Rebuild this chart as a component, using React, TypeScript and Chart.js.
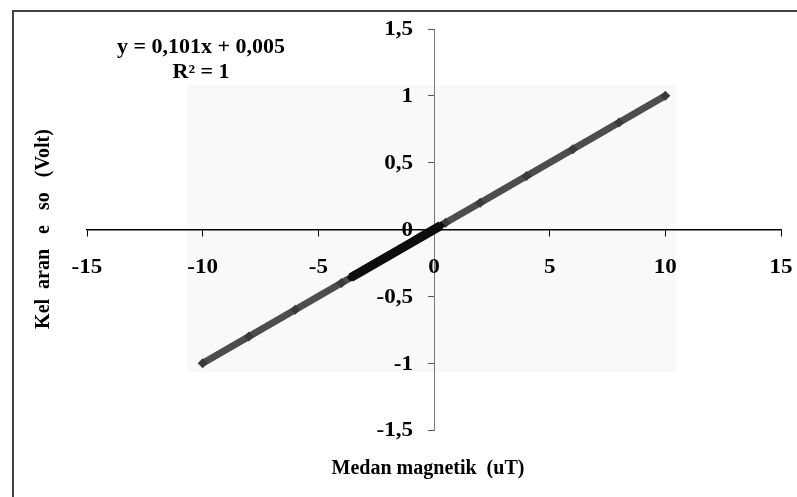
import React, { useEffect, useRef } from "react";
import { Chart, registerables } from "chart.js";

Chart.register(...registerables);

// Magnetic field (uT) and sensor output (Volt)
const fieldValues = [-10, -8, -6, -4, -3.5, -3, -2.5, -2, -1.5, -1, -0.5, 0, 0.5, 2, 4, 6, 8, 10];
const outputValues = [-1.0, -0.8, -0.6, -0.4, -0.35, -0.3, -0.25, -0.2, -0.15, -0.1, -0.05, 0, 0.05, 0.2, 0.4, 0.6, 0.8, 1.0];
// dense low-field readings drawn in black
const denseField = [-3.6, -3.3, -3, -2.7, -2.4, -2.1, -1.8, -1.5, -1.2, -0.9, -0.6, -0.3, 0, 0.3];
const denseOutput = [-0.36, -0.33, -0.3, -0.27, -0.24, -0.21, -0.18, -0.15, -0.12, -0.09, -0.06, -0.03, 0, 0.03];

const xTicks = [-15, -10, -5, 0, 5, 10, 15];
const yTicks = [-1.5, -1, -0.5, 0, 0.5, 1, 1.5];

const equationLines = ["y = 0,101x + 0,005", "R\u00b2 = 1"];
const xTitle = "Medan magnetik  (uT)";
const yTitle = "Kel  aran   e   so   (Volt)";

const FONT = "'Liberation Serif', 'Times New Roman', serif";

const fmt = (v: number) => String(v).replace(".", ",");

function text(
  ctx: CanvasRenderingContext2D,
  s: string,
  x: number,
  y: number,
  size: number,
  align: CanvasTextAlign,
  sx = 1
) {
  ctx.save();
  ctx.translate(x, y);
  ctx.scale(sx, 1);
  ctx.font = `bold ${size}px ${FONT}`;
  ctx.textAlign = align;
  ctx.textBaseline = "middle";
  ctx.fillStyle = "#000";
  ctx.fillText(s, 0, 0);
  ctx.restore();
}

const decorPlugin = {
  id: "decor",
  beforeDraw(chart: any) {
    const ctx = chart.ctx;
    ctx.save();
    // frame
    ctx.strokeStyle = "#444";
    ctx.lineWidth = 2;
    ctx.beginPath();
    ctx.moveTo(13, 497);
    ctx.lineTo(13, 11);
    ctx.lineTo(797, 11);
    ctx.stroke();
    // faint plot background
    ctx.fillStyle = "#f9f9f9";
    ctx.fillRect(187, 85, 489, 287);
    ctx.restore();
  },
  afterDraw(chart: any) {
    const ctx = chart.ctx;
    const xs = chart.scales.x;
    const ys = chart.scales.y;
    const x0 = xs.getPixelForValue(0);
    xTicks.forEach((v) => text(ctx, fmt(v), xs.getPixelForValue(v), 268, 21, "center", 1.1));
    yTicks.forEach((v) => text(ctx, fmt(v), x0 - 21, ys.getPixelForValue(v) + 1, 21, "right", 1.1));
    text(ctx, equationLines[0], 201, 48, 20, "center", 1.1);
    text(ctx, equationLines[1], 201, 73, 20, "center", 1.1);
    text(ctx, xTitle, 428, 469, 20, "center");
    ctx.save();
    ctx.translate(44, 229);
    ctx.rotate(-Math.PI / 2);
    text(ctx, yTitle, 0, 0, 20, "center");
    ctx.restore();
  },
};

export default function App() {
  const ref = useRef<HTMLCanvasElement | null>(null);

  useEffect(() => {
    if (!ref.current) return;
    const chart = new Chart(ref.current, {
      type: "scatter",
      data: {
        datasets: [
          {
            data: denseField.map((x, i) => ({ x, y: denseOutput[i] })),
            showLine: true,
            borderColor: "#0d0d0d",
            backgroundColor: "#0d0d0d",
            borderWidth: 9,
            pointStyle: "rectRot",
            pointRadius: 4,
            pointBorderWidth: 0,
          },
          {
            data: fieldValues.map((x, i) => ({ x, y: outputValues[i] })),
            showLine: true,
            borderColor: "#4d4d4d",
            backgroundColor: "#3a3a3a",
            borderWidth: 7,
            pointStyle: "rectRot",
            pointRadius: 5,
            pointBorderWidth: 0,
          },
        ],
      },
      options: {
        animation: false,
        responsive: false,
        maintainAspectRatio: false,
        layout: { padding: { left: 87, right: 16, top: 29, bottom: 67 } },
        plugins: { legend: { display: false }, tooltip: { enabled: false } },
        scales: {
          x: {
            type: "linear",
            min: -15,
            max: 15,
            position: { y: 0 },
            afterBuildTicks: (s: any) => {
              s.ticks = xTicks.map((v) => ({ value: v }));
            },
            grid: { drawOnChartArea: false, tickLength: 6, color: "#000", tickColor: "#000" },
            border: { color: "#000", width: 1.5 },
            ticks: { display: false },
          },
          y: {
            type: "linear",
            min: -1.5,
            max: 1.5,
            position: { x: 0 },
            afterBuildTicks: (s: any) => {
              s.ticks = yTicks.map((v) => ({ value: v }));
            },
            grid: { drawOnChartArea: false, tickLength: 6, color: "#777", tickColor: "#555" },
            border: { color: "#777", width: 1 },
            ticks: { display: false },
          },
        },
      },
      plugins: [decorPlugin],
    } as any);
    return () => chart.destroy();
  }, []);

  return (
    <div style={{ position: "absolute", left: 0, top: 0, width: 797, height: 497, background: "#fff" }}>
      <canvas ref={ref} width={797} height={497} style={{ width: 797, height: 497, display: "block" }} />
    </div>
  );
}
